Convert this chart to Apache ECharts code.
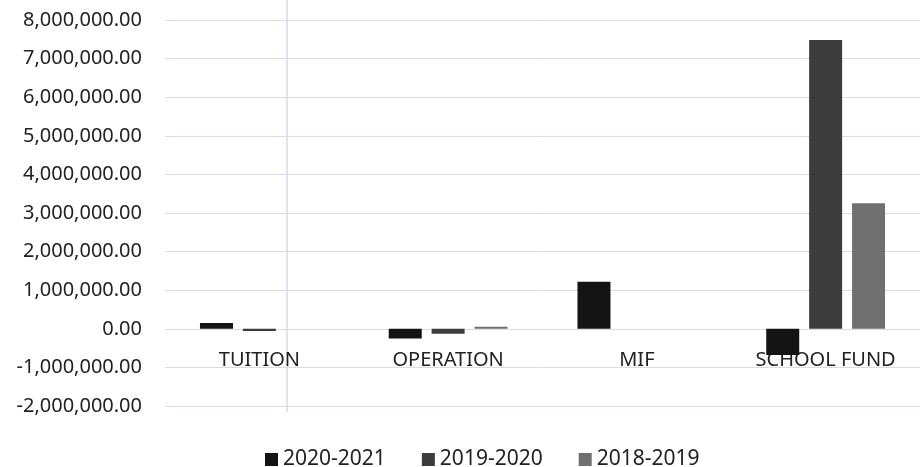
<!DOCTYPE html>
<html><head><meta charset="utf-8">
<script src="https://cdn.jsdelivr.net/npm/echarts@6/dist/echarts.min.js"></script>
<style>html,body{margin:0;padding:0;background:#fff}#c{width:920px;height:467px}</style>
</head><body><div id="c"></div>
<script>
const categories = ['TUITION', 'OPERATION', 'MIF', 'SCHOOL FUND'];
const seriesNames = ['2020-2021', '2019-2020', '2018-2019'];
const s2020_2021 = [150000, -250000, 1220000, -680000];
const s2019_2020 = [-60000, -130000, 0, 7480000];
const s2018_2019 = [0, 50000, 0, 3250000];
const seriesColors = ['#141414', '#3c3c3c', '#707070'];
const yTicks = [-2000000, -1000000, 0, 1000000, 2000000, 3000000, 4000000, 5000000, 6000000, 7000000, 8000000];

const font = 'Noto Sans, sans-serif';
const chart = echarts.init(document.getElementById('c'), null, {renderer: 'canvas'});
const values = [s2020_2021, s2019_2020, s2018_2019];
chart.setOption({
  animation: false,
  backgroundColor: '#fff',
  grid: {left: 165, right: 0, top: 20, bottom: 61},
  legend: {
    bottom: -8, left: 260, itemWidth: 13, itemHeight: 13, itemGap: 36,
    icon: 'rect',
    textStyle: {fontFamily: font, fontSize: 21, color: '#222'},
    data: seriesNames
  },
  xAxis: {
    type: 'category', data: categories,
    axisLine: {show: true, onZero: true, lineStyle: {color: '#dcdae6'}},
    axisTick: {show: false},
    axisLabel: {fontFamily: font, fontSize: 20, color: '#222', margin: -56},
    splitLine: {show: false}
  },
  yAxis: {
    type: 'value', min: yTicks[0], max: yTicks[yTicks.length - 1], interval: 1000000,
    axisLine: {show: false}, axisTick: {show: false},
    axisLabel: {
      fontFamily: font, fontSize: 20, color: '#222', margin: 23,
      formatter: v => v.toLocaleString('en-US', {minimumFractionDigits: 2, maximumFractionDigits: 2})
    },
    splitLine: {lineStyle: {color: '#dcdae6', width: 1}}
  },
  graphic: [{
    type: 'line', shape: {x1: 287, y1: 0, x2: 287, y2: 412},
    style: {stroke: '#e2d4ee', lineWidth: 1.5}, z: -1
  }],
  series: seriesNames.map((n, i) => ({
    name: n, type: 'bar', data: values[i],
    barWidth: 33, barGap: '30%',
    itemStyle: {color: seriesColors[i]}
  }))
});
</script></body></html>
